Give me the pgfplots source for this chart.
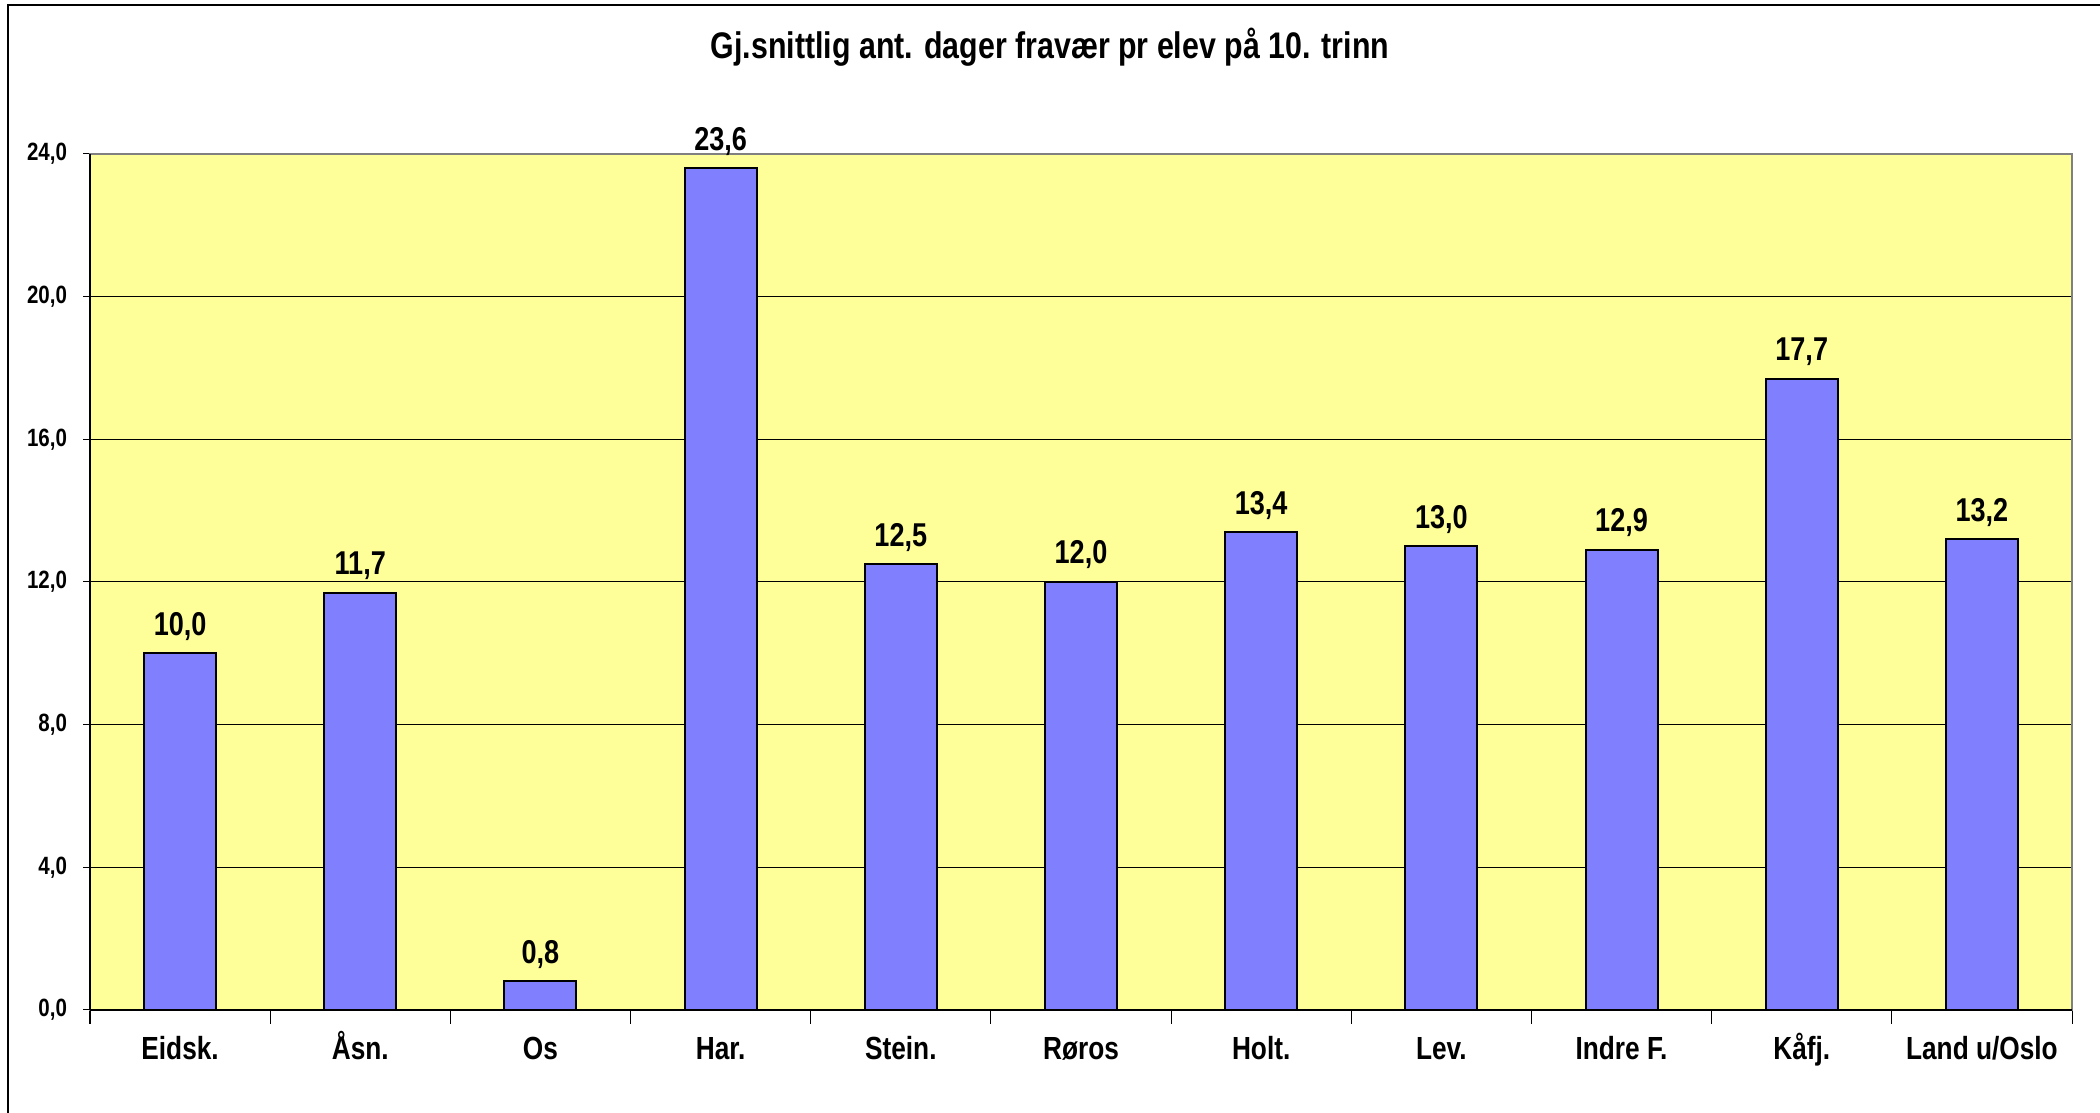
\documentclass[border=0pt]{standalone}
\usepackage{fontspec}
\setmainfont{Liberation Sans}[FakeStretch=0.82]
\usepackage{pgfplots}
\pgfplotsset{compat=1.18}
\definecolor{plotbg}{HTML}{FFFF99}
\definecolor{barcol}{HTML}{8080FF}
\definecolor{framegray}{HTML}{808080}
\begin{document}
\begin{tikzpicture}
\path[use as bounding box] (0,0) rectangle (1050pt,556.5pt);
\draw[black, line width=0.8pt] (4pt,0) -- (4pt,554pt) -- (1050pt,554pt);
\node[font=\bfseries\fontsize{18.5}{22}\selectfont, anchor=center] at (525pt,533pt) {Gj.snittlig ant. dager fravær pr elev på 10. trinn};
\begin{axis}[
  at={(45pt,51.5pt)}, anchor=south west,
  scale only axis, width=991pt, height=428pt,
  xmin=-0.5, xmax=10.5, ymin=0, ymax=24,
  axis background/.style={fill=plotbg},
  axis line style={framegray, line width=0.9pt},
  ytick={0,4,...,24},
  ymajorgrids, grid style={black, line width=0.5pt},
  xtick={0,...,10},
  xticklabels={Eidsk.,Åsn.,Os,Har.,Stein.,Røros,Holt.,Lev.,Indre F.,Kåfj.,Land u/Oslo},
  major x tick style={draw=none},
  minor xtick={-0.5,0.5,...,10.5},
  minor tick style={black, line width=0.5pt},
  minor tick length=7pt,
  major tick length=3.5pt,
  tick align=outside, xtick pos=bottom, ytick pos=left,
  y tick style={black, line width=0.5pt},
  /pgf/number format/assume math mode=true,
  yticklabel style={font=\bfseries\fontsize{12.5}{14}\selectfont, xshift=-4.5pt, /pgf/number format/.cd, fixed, fixed zerofill, precision=1, use comma},
  xticklabel style={font=\bfseries\fontsize{16}{18}\selectfont, anchor=base, yshift=-21.5pt},
  nodes near coords,
  nodes near coords style={font=\bfseries\fontsize{16.5}{18}\selectfont, anchor=base, yshift=9pt, /pgf/number format/.cd, fixed, fixed zerofill, precision=1, use comma, assume math mode=true},
  clip=false,
]
\addplot[ybar, bar width=36pt, fill=barcol, draw=black, line width=1pt] coordinates {
(0,10.0) (1,11.7) (2,0.8) (3,23.6) (4,12.5) (5,12.0) (6,13.4) (7,13.0) (8,12.9) (9,17.7) (10,13.2)
};
\draw[black, line width=0.6pt] (axis cs:-0.5,0) -- (axis cs:-0.5,24);
\draw[black, line width=0.6pt] (axis cs:-0.5,0) -- (axis cs:10.5,0);
\end{axis}
\end{tikzpicture}
\end{document}
